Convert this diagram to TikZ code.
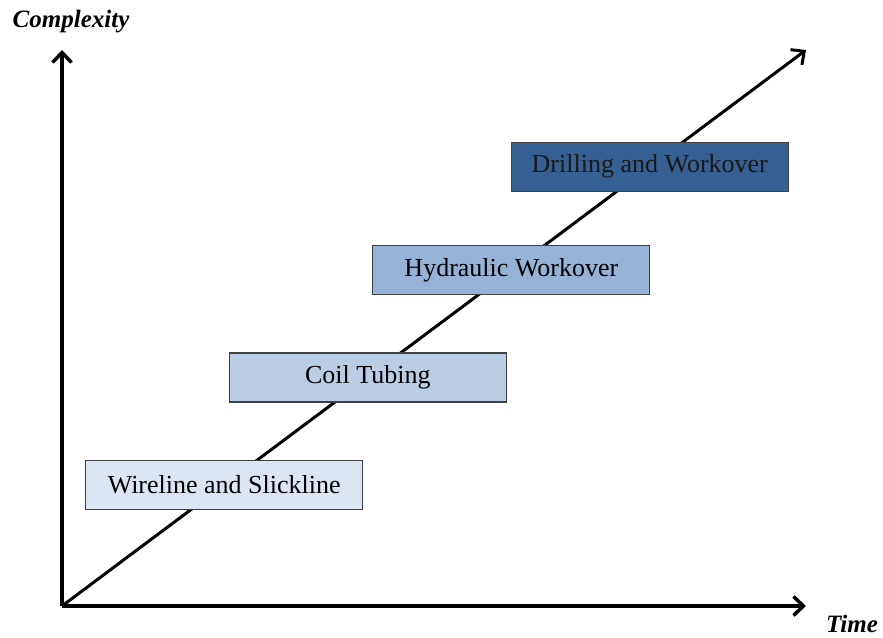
\documentclass[tikz,border=0pt]{standalone}
\usepackage{fontspec}
\setmainfont{Liberation Serif}
\usetikzlibrary{arrows.meta, calc}
\definecolor{wirec}{HTML}{DCE6F2}
\definecolor{coilc}{HTML}{B9CDE5}
\definecolor{hydrc}{HTML}{95B3D7}
\definecolor{drilc}{HTML}{366092}

\begin{document}
\begin{tikzpicture}[x=1pt, y=1pt,
    axis/.style={line width=3.5pt, -{Straight Barb[length=10pt, width=19pt]}},
    level/.style={draw=black!75, line width=1.2pt, minimum width=277pt,
      minimum height=49pt, inner sep=0pt, font=\fontsize{26}{30}\selectfont},
    lab/.style={anchor=base, font=\fontsize{25}{28}\selectfont\bfseries\itshape}]
  \useasboundingbox (0,0) rectangle (883,637);
  \coordinate (o) at (62,31);
  \coordinate (ytop) at (62,587);
  \coordinate (xend) at (806,31);
  \coordinate (dend) at (806,587);
  \draw[axis] (o) -- (ytop);
  \draw[axis] (o) -- (xend);
  \draw[axis, line width=3pt] (o) -- (dend);
  \node[level, fill=wirec] (w) at ($(o)!0.218!(dend)$) {Wireline and Slickline};
  \node[level, fill=coilc] (c) at ($(o)!0.411!(dend)$) {Coil Tubing};
  \node[level, fill=hydrc] (h) at ($(o)!0.604!(dend)$) {Hydraulic Workover};
  \node[level, fill=drilc, text=black!90] (d) at ($(o)!0.790!(dend)$) {Drilling and Workover};
  \node[lab] (cx) at (71,609) {Complexity};
  \node[lab] (tm) at (852,5) {Time};
\end{tikzpicture}
\end{document}
